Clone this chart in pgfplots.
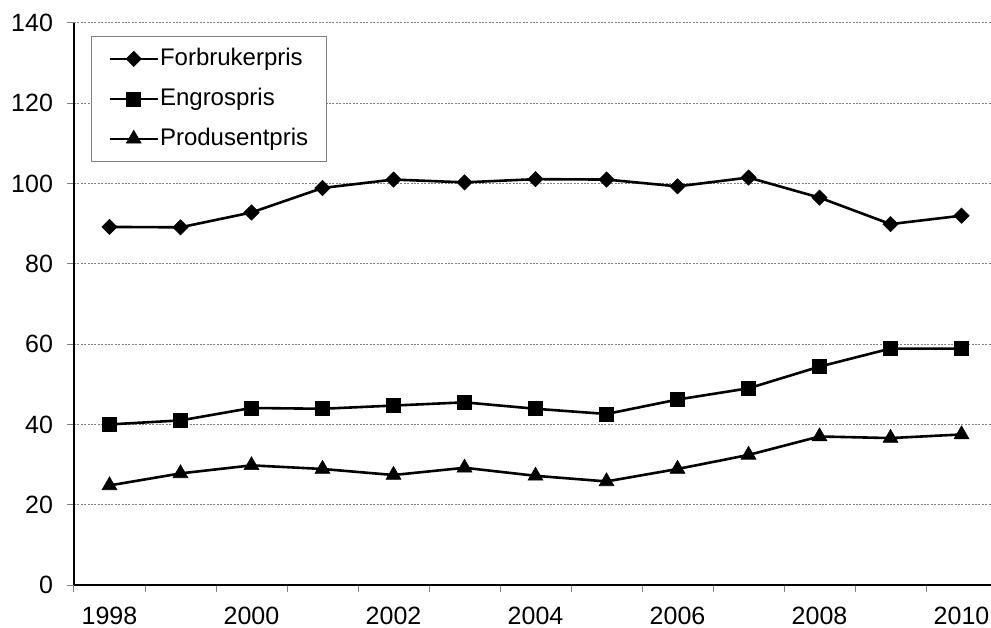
\documentclass[border=0pt]{standalone}
\usepackage{pgfplots}
\pgfplotsset{compat=1.18}
\usepackage{fontspec}
\setmainfont{Liberation Sans}
\begin{document}
\begin{tikzpicture}
\path[use as bounding box] (-37pt,-21pt) rectangle (458.5pt,292.5pt);
\begin{axis}[
  scale only axis, width=458.5pt, height=281pt,
  xmin=-0.5, xmax=12.415, ymin=0, ymax=140,
  axis x line*=bottom, axis y line*=left,
  axis line style={black, line width=0.6pt},
  xtick={-0.5,0.5,...,11.5}, xticklabels={},
  extra x ticks={0,2,...,12},
  extra x tick labels={1998,2000,2002,2004,2006,2008,2010},
  extra x tick style={major tick length=0pt, xticklabel style={inner ysep=0pt, yshift=-10.75pt}},
  ytick={0,20,...,140},
  tick align=outside,
  major tick length=3.5pt,
  tick style={gray, line width=0.5pt},
  ymajorgrids,
  grid style={gray, dash pattern=on 1pt off 0.7pt, line width=0.5pt},
  /pgf/number format/assume math mode=true,
  tick label style={font=\fontsize{12.5}{14}\selectfont, black},
  yticklabel style={xshift=-3.5pt},
  legend style={at={(0.0185,0.9769)}, anchor=north west, draw=gray, line width=0.5pt,
    fill=white, font=\fontsize{12}{14}\selectfont, inner xsep=8.5pt, inner ysep=3.4pt,
    row sep=4.4pt,
    nodes={text height=9pt, text depth=2.6pt, inner xsep=0.5pt, inner ysep=2pt}},
  legend cell align=left,
  legend image code/.code={\draw[mark repeat=2,mark phase=2,#1] plot coordinates {(0pt,0pt)(12pt,0pt)(24pt,0pt)};},
]
\addplot[black, line width=1.3pt, mark=square*, mark size=2.7pt, mark options={solid, fill=black, line width=0.3pt, rotate=45}] coordinates {
(0,89.2) (1,89.1) (2,92.8) (3,98.9) (4,101.0) (5,100.3) (6,101.1) (7,101.0) (8,99.3) (9,101.5) (10,96.5) (11,89.9) (12,92.0)};
\addlegendentry{Forbrukerpris}
\addplot[black, line width=1.3pt, mark=square*, mark size=3.5pt, mark options={solid, fill=black, line width=0.3pt}] coordinates {
(0,40.0) (1,41.0) (2,44.1) (3,43.9) (4,44.7) (5,45.5) (6,43.9) (7,42.6) (8,46.2) (9,49.0) (10,54.4) (11,58.9) (12,58.9)};
\addlegendentry{Engrospris}
\addplot[black, line width=1.3pt, mark=triangle*, mark size=4.3pt, mark options={solid, fill=black, line width=0.3pt}] coordinates {
(0,24.8) (1,27.8) (2,29.8) (3,28.9) (4,27.4) (5,29.2) (6,27.2) (7,25.8) (8,28.9) (9,32.4) (10,37.0) (11,36.6) (12,37.5)};
\addlegendentry{Produsentpris}
\end{axis}
\end{tikzpicture}
\end{document}
